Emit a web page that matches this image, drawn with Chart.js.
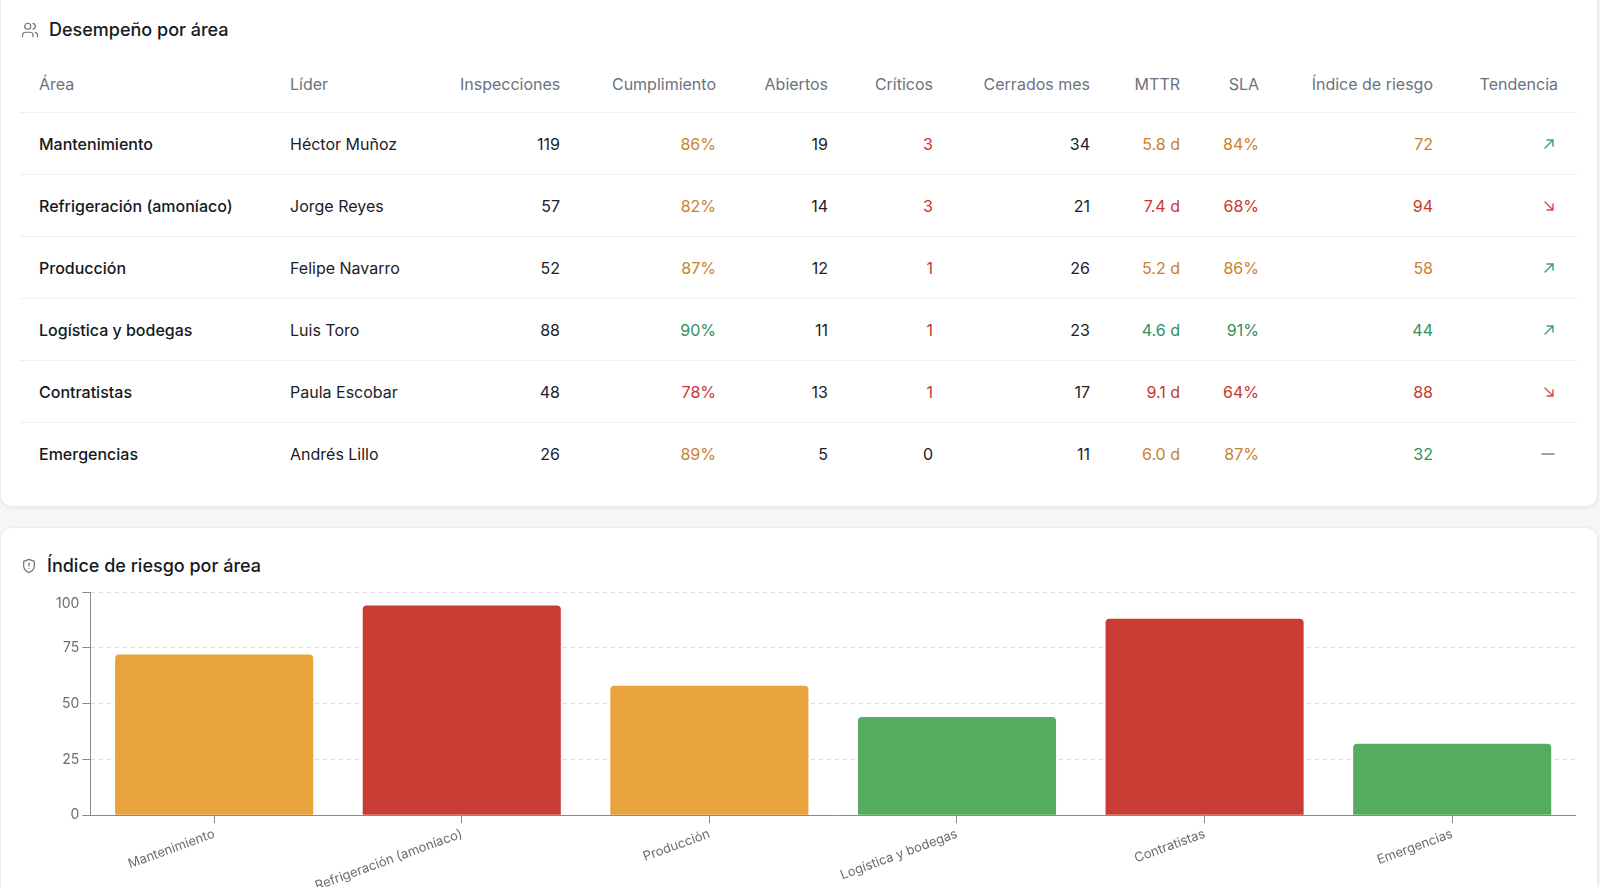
<!DOCTYPE html>
<html lang="es">
<head>
<meta charset="utf-8">
<title>Desempeño por área</title>
<script src="https://cdn.jsdelivr.net/npm/chart.js@4/dist/chart.umd.min.js"></script>
<style>
  html, body { margin: 0; padding: 0; }
  body {
    width: 1600px; height: 887px; overflow: hidden; position: relative;
    background: #f5f6f8; font-family: Inter, "Noto Sans", sans-serif; color: #1d2027;
  }
  .card {
    position: absolute; left: 0; width: 1598px; background: #fff;
    border-radius: 12px; box-shadow: 0 1px 3px rgba(20, 30, 50, 0.08);
    border: 1px solid #eceef1; box-sizing: border-box;
  }
  #card1 { top: -20px; height: 527px; }
  #card2 { top: 527px; height: 380px; }
  .title {
    position: absolute; left: 20px; display: flex; align-items: center;
    font-size: 18px; font-weight: 500; color: #161a22;
  }
  .title svg { margin-right: 10px; }
  #t1 { top: 38px; }
  #t2 { top: 27px; }
  table {
    position: absolute; left: 19px; top: 75px; width: 1558px;
    border-collapse: collapse; table-layout: fixed; font-size: 16px;
  }
  th { font-weight: 400; color: #6b7280; height: 56px; padding: 0 20px 0 19px; border-bottom: 1px solid #eef0f2; }
  td { height: 61px; padding: 0 20px 0 19px; border-bottom: 1px solid #eef0f2; }
  td:last-child { padding-right: 23px; }
  tr:last-child td { border-bottom: none; }
  .l { text-align: left; }
  .r { text-align: right; }
  td.name { font-weight: 500; color: #15181e; }
  .ok { color: #2f8f5b; }
  .warn { color: #c9822f; }
  .bad { color: #c9352f; }
  #chartBox { position: absolute; left: 52px; top: 37px; width: 1523px; height: 332px; }
</style>
</head>
<body>
<div class="card" id="card1">
  <div class="title" id="t1">
    <svg width="18" height="18" viewBox="0 0 24 24" fill="none" stroke="#6b7280" stroke-width="1.6" stroke-linecap="round" stroke-linejoin="round"><circle cx="9" cy="7" r="4"/><path d="M2 21v-2a4 4 0 0 1 4-4h6a4 4 0 0 1 4 4v2"/><path d="M16 3.1a4 4 0 0 1 0 7.8"/><path d="M22 21v-2a4 4 0 0 0-3-3.9"/></svg>
    Desempeño por área
  </div>
  <table id="tbl">
    <colgroup>
      <col style="width:251px"><col style="width:170px"><col style="width:139px"><col style="width:156px">
      <col style="width:112px"><col style="width:105px"><col style="width:157px"><col style="width:90px">
      <col style="width:79px"><col style="width:174px"><col style="width:125px">
    </colgroup>
    <thead><tr id="head"></tr></thead>
    <tbody id="body"></tbody>
  </table>
</div>
<div class="card" id="card2">
  <div class="title" id="t2">
    <svg width="16" height="18" viewBox="0 0 24 24" fill="none" stroke="#6b7280" stroke-width="1.8" stroke-linecap="round" stroke-linejoin="round"><path d="M12 22s8-4 8-10V5l-8-3-8 3v7c0 6 8 10 8 10z"/><path d="M12 8v4"/><path d="M12 16h.01"/></svg>
    Índice de riesgo por área
  </div>
  <div id="chartBox"><canvas id="riesgo"></canvas></div>
</div>
<script>
// data straight off the dashboard
const areas = ["Mantenimiento", "Refrigeración (amoníaco)", "Producción", "Logística y bodegas", "Contratistas", "Emergencias"];
const lideres = ["Héctor Muñoz", "Jorge Reyes", "Felipe Navarro", "Luis Toro", "Paula Escobar", "Andrés Lillo"];
const inspecciones = [119, 57, 52, 88, 48, 26];
const cumplimiento = [86, 82, 87, 90, 78, 89];
const abiertos = [19, 14, 12, 11, 13, 5];
const criticos = [3, 3, 1, 1, 1, 0];
const cerradosMes = [34, 21, 26, 23, 17, 11];
const mttr = [5.8, 7.4, 5.2, 4.6, 9.1, 6.0];
const sla = [84, 68, 86, 91, 64, 87];
const riesgo = [72, 94, 58, 44, 88, 32];
const tendencia = ["up", "down", "up", "up", "down", "flat"];
const yTicks = [0, 25, 50, 75, 100];

const headers = ["Área", "Líder", "Inspecciones", "Cumplimiento", "Abiertos", "Críticos", "Cerrados mes", "MTTR", "SLA", "Índice de riesgo", "Tendencia"];

// colour rules
const hiGood = (v, g, w) => v >= g ? "ok" : v >= w ? "warn" : "bad";
const loGood = (v, g, w) => v < g ? "ok" : v < w ? "warn" : "bad";

const arrows = {
    up: '<svg width="12" height="12" viewBox="0 0 12 12" fill="none" stroke="#3f9e6e" stroke-width="1.4" stroke-linecap="round"><path d="M2 10L10 2M4 2h6v6"/></svg>',
    down: '<svg width="12" height="12" viewBox="0 0 12 12" fill="none" stroke="#d9483f" stroke-width="1.4" stroke-linecap="round"><path d="M2 2l8 8M10 4v6H4"/></svg>',
    flat: '<svg width="14" height="12" viewBox="0 0 14 12" fill="none" stroke="#7a8490" stroke-width="1.4" stroke-linecap="round"><path d="M1 6h12"/></svg>'
};

document.getElementById("head").innerHTML = headers.map((h, i) =>
    `<th class="${i < 2 ? "l" : "r"}">${h}</th>`).join("");

let rows = "";
for (let i = 0; i < areas.length; i++) {
    rows += "<tr>" +
        `<td class="l name">${areas[i]}</td>` +
        `<td class="l">${lideres[i]}</td>` +
        `<td class="r">${inspecciones[i]}</td>` +
        `<td class="r ${hiGood(cumplimiento[i], 90, 80)}">${cumplimiento[i]}%</td>` +
        `<td class="r">${abiertos[i]}</td>` +
        `<td class="r ${criticos[i] > 0 ? "bad" : ""}">${criticos[i]}</td>` +
        `<td class="r">${cerradosMes[i]}</td>` +
        `<td class="r ${loGood(mttr[i], 5, 7)}">${mttr[i].toFixed(1)} d</td>` +
        `<td class="r ${hiGood(sla[i], 90, 80)}">${sla[i]}%</td>` +
        `<td class="r ${loGood(riesgo[i], 50, 80)}">${riesgo[i]}</td>` +
        `<td class="r">${arrows[tendencia[i]]}</td>` +
        "</tr>";
}
document.getElementById("body").innerHTML = rows;

// bar chart
const barColor = { ok: "#55ab5f", warn: "#e8a33c", bad: "#c93c34" };
Chart.defaults.font.family = "Inter, 'Noto Sans', sans-serif";

new Chart(document.getElementById("riesgo"), {
    type: "bar",
    data: {
        labels: areas,
        datasets: [{
            data: riesgo,
            backgroundColor: riesgo.map(v => barColor[loGood(v, 50, 80)]),
            borderRadius: 4,
            barPercentage: 1,
            categoryPercentage: 0.8
        }]
    },
    options: {
        animation: false,
        maintainAspectRatio: false,
        plugins: { legend: { display: false }, tooltip: { enabled: false } },
        scales: {
            x: {
                grid: { drawOnChartArea: false, offset: false, tickColor: "#8a8a8a", tickLength: 8 },
                border: { color: "#8a8a8a" },
                ticks: { color: "#6e6e6e", font: { size: 13 }, minRotation: 20, maxRotation: 20 }
            },
            y: {
                min: 0,
                max: 100,
                afterBuildTicks: axis => { axis.ticks = yTicks.map(v => ({ value: v })); },
                grid: { color: "#dcdcdc", tickColor: "#8a8a8a", tickLength: 8 },
                border: { color: "#8a8a8a", dash: [4, 4] },
                ticks: {
                    color: "#6e6e6e",
                    font: ctx => ({ size: 14, lineHeight: ctx.tick && ctx.tick.value === 100 ? "24px" : 1.2 }),
                    // top label sits a bit under its line in the original
                    callback: v => v === 100 ? ["", "100"] : v
                }
            }
        }
    }
});
</script>
</body>
</html>
